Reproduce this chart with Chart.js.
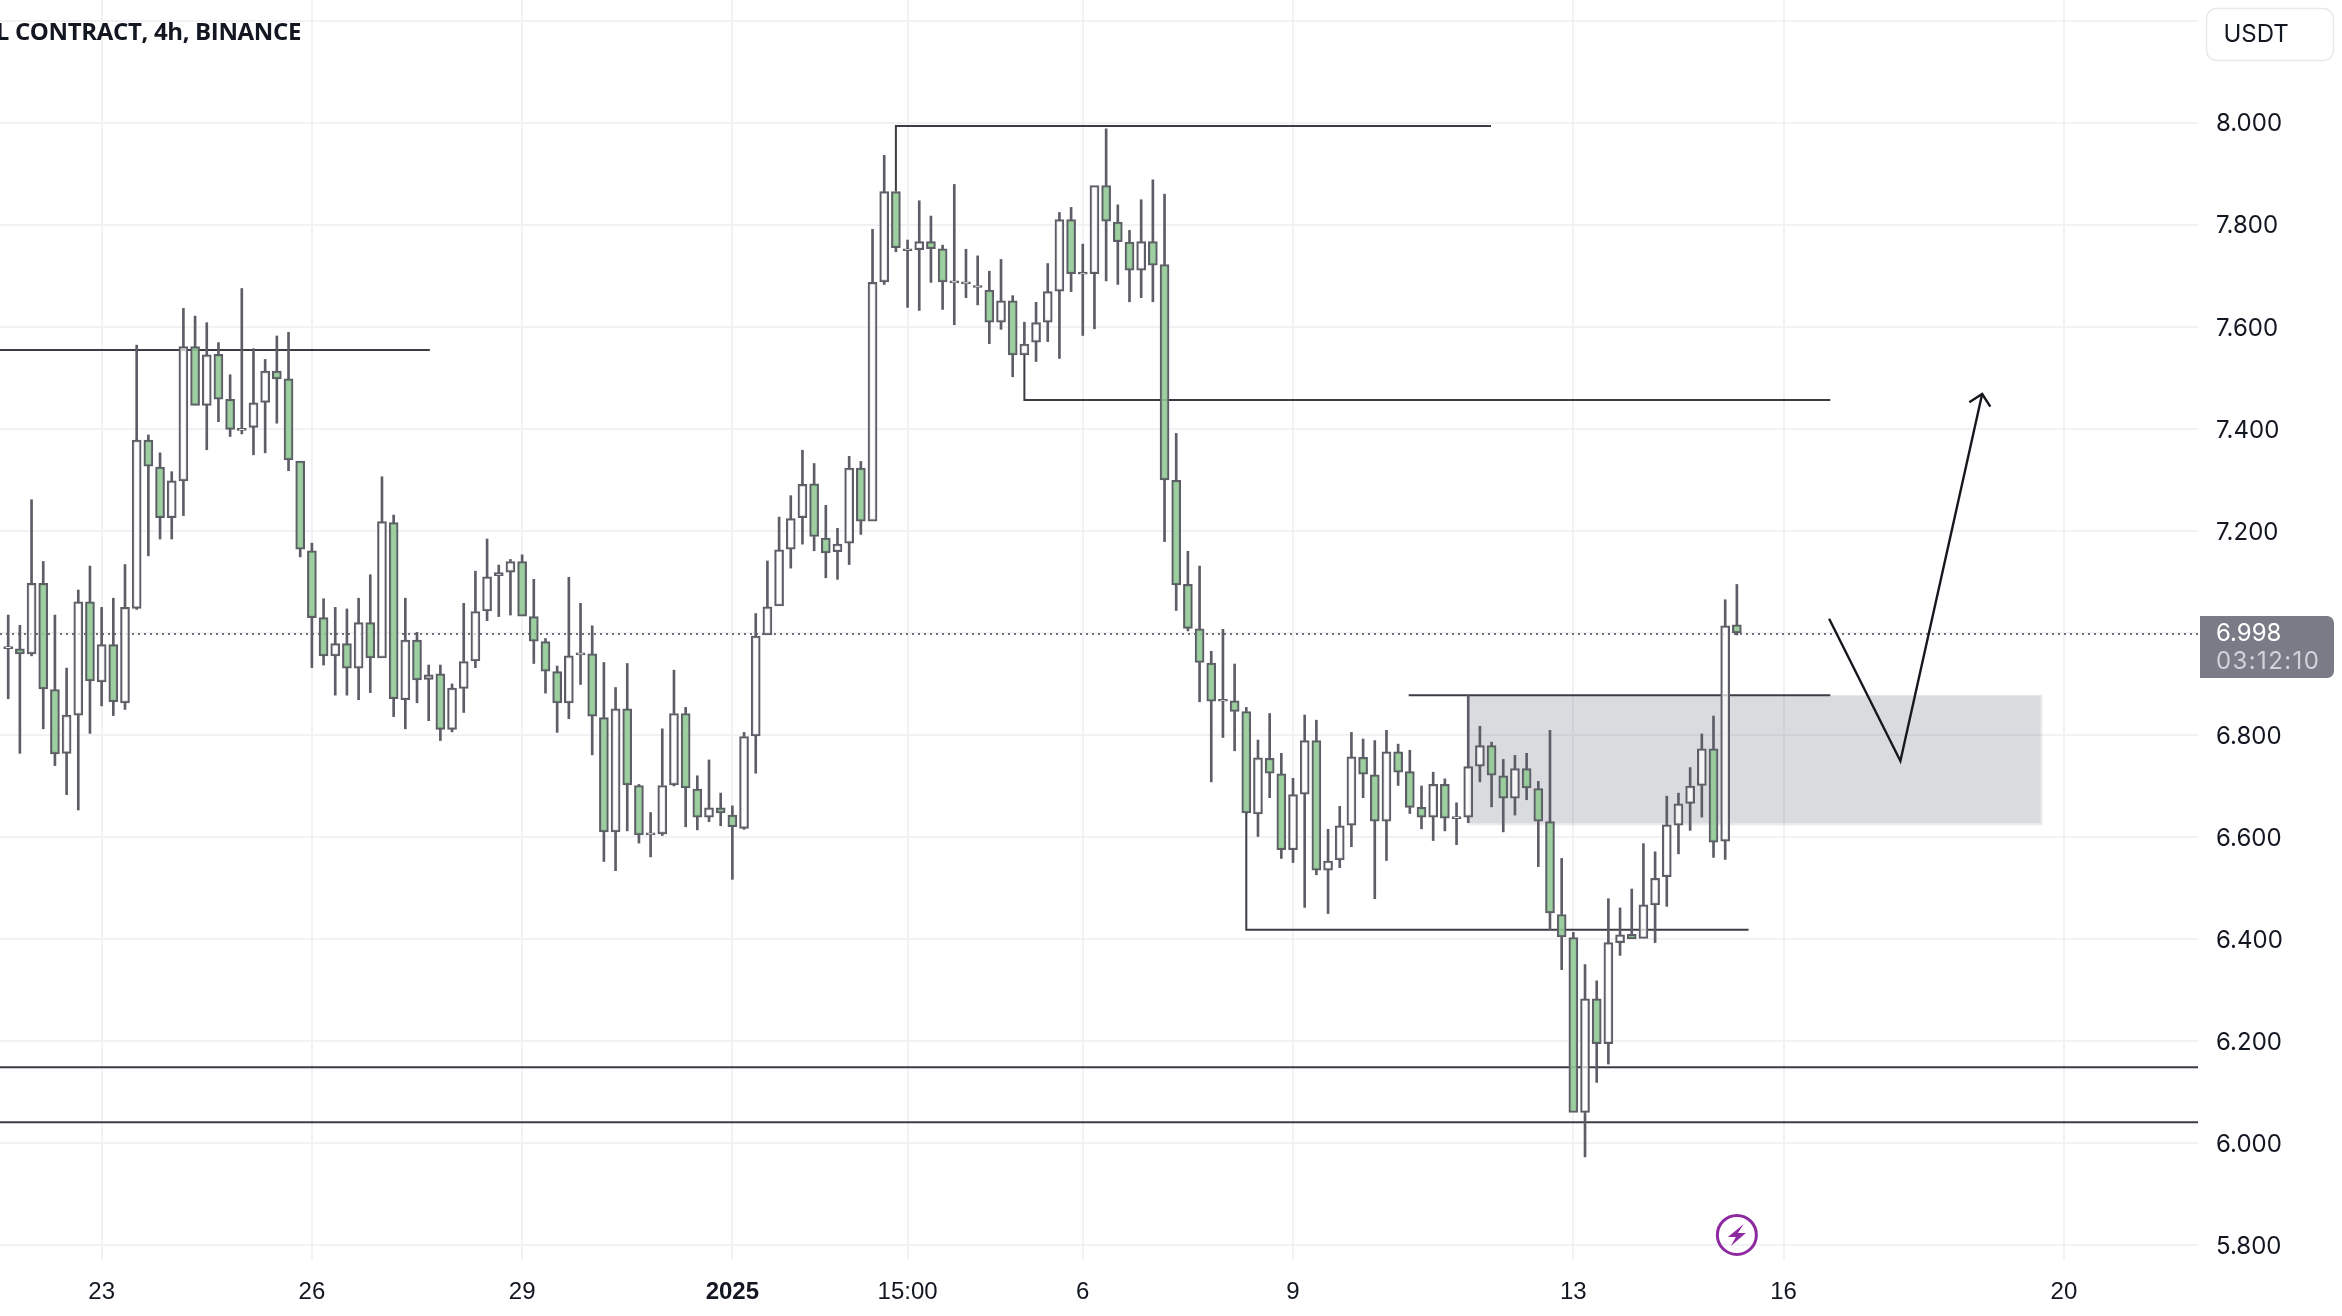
<!DOCTYPE html>
<html>
<head>
<meta charset="utf-8">
<style>html,body{margin:0;padding:0;background:#fff}canvas{display:block}</style>
<script src="https://cdn.jsdelivr.net/npm/chart.js@4"></script>
</head>
<body>
<canvas id="c" width="2342" height="1316"></canvas>
<script>
const opens = [
6.969,6.969,6.959,7.097,6.889,6.764,6.839,7.061,6.904,6.977,
6.863,7.048,7.378,7.325,7.226,7.298,7.561,7.446,7.546,7.458,
7.397,7.403,7.452,7.513,7.498,7.337,7.161,7.030,6.955,6.979,
6.931,7.020,6.951,7.216,6.869,6.986,6.909,6.920,6.811,6.891,
6.945,7.043,7.112,7.119,7.140,7.032,6.983,6.924,6.863,6.957,
6.959,6.834,6.610,6.851,6.701,6.604,6.606,6.702,6.842,6.694,
6.639,6.657,6.643,6.617,6.798,6.996,7.053,7.164,7.226,7.292,
7.186,7.159,7.176,7.323,7.219,7.688,7.865,7.749,7.751,7.767,
7.753,7.686,7.684,7.677,7.672,7.609,7.651,7.545,7.570,7.609,
7.670,7.810,7.703,7.704,7.877,7.805,7.766,7.711,7.767,7.722,
7.299,7.095,7.008,6.941,6.866,6.867,6.846,6.645,6.754,6.724,
6.575,6.684,6.789,6.535,6.555,6.623,6.756,6.722,6.631,6.767,
6.728,6.658,6.639,6.703,6.636,6.639,6.739,6.779,6.720,6.676,
6.734,6.695,6.630,6.448,6.403,6.060,6.283,6.195,6.393,6.409,
6.401,6.467,6.522,6.623,6.666,6.701,6.773,6.592,7.016];
const highs = [
7.035,7.015,7.261,7.140,7.035,6.931,7.084,7.131,7.050,7.068,
7.134,7.564,7.388,7.353,7.316,7.636,7.621,7.608,7.569,7.506,
7.675,7.557,7.536,7.582,7.589,7.337,7.176,7.067,7.050,7.047,
7.068,7.114,7.306,7.231,7.068,7.001,6.937,6.937,6.900,7.058,
7.121,7.184,7.133,7.144,7.153,7.105,6.989,6.935,7.109,7.058,
7.014,6.942,6.893,6.940,6.703,6.648,6.812,6.927,6.854,6.720,
6.751,6.686,6.661,6.805,7.038,7.141,7.227,7.269,7.358,7.332,
7.250,7.205,7.346,7.336,7.791,7.936,7.865,7.770,7.847,7.817,
7.760,7.879,7.752,7.739,7.709,7.732,7.661,7.609,7.648,7.724,
7.824,7.834,7.762,7.877,7.988,7.839,7.789,7.849,7.888,7.860,
7.391,7.160,7.131,6.964,7.007,6.939,6.854,6.790,6.842,6.764,
6.715,6.839,6.829,6.615,6.660,6.805,6.792,6.789,6.809,6.782,
6.770,6.700,6.727,6.714,6.667,6.877,6.817,6.786,6.752,6.760,
6.764,6.709,6.809,6.558,6.413,6.350,6.318,6.479,6.461,6.498,
6.587,6.571,6.680,6.686,6.736,6.802,6.837,7.065,7.095];
const lows = [
6.871,6.764,6.955,6.812,6.740,6.683,6.653,6.803,6.857,6.838,
6.850,7.046,7.151,7.184,7.184,7.230,7.446,7.359,7.414,7.385,
7.390,7.349,7.353,7.411,7.318,7.149,6.932,6.937,6.878,6.878,
6.869,6.883,6.951,6.836,6.812,6.863,6.828,6.789,6.806,6.844,
6.932,7.024,7.032,7.035,7.033,6.940,6.882,6.805,6.832,6.899,
6.761,6.552,6.534,6.612,6.588,6.561,6.603,6.700,6.620,6.614,
6.630,6.622,6.517,6.615,6.725,6.996,7.053,7.127,7.174,7.161,
7.108,7.105,7.134,7.193,7.219,7.683,7.747,7.638,7.632,7.687,
7.634,7.604,7.657,7.643,7.567,7.595,7.502,7.545,7.532,7.571,
7.538,7.669,7.583,7.596,7.690,7.683,7.649,7.657,7.649,7.179,
7.044,7.004,6.865,6.708,6.795,6.769,6.645,6.601,6.677,6.558,
6.550,6.462,6.526,6.450,6.540,6.581,6.677,6.479,6.554,6.701,
6.646,6.616,6.593,6.612,6.585,6.628,6.708,6.659,6.610,6.643,
6.673,6.542,6.418,6.340,6.060,5.973,6.119,6.155,6.368,6.400,
6.401,6.393,6.464,6.567,6.613,6.639,6.560,6.556,6.996];
const closes = [
6.973,6.959,7.097,6.890,6.763,6.839,7.061,6.906,6.977,6.865,
7.050,7.378,7.327,7.226,7.298,7.561,7.446,7.545,7.458,7.399,
7.401,7.451,7.513,7.498,7.339,7.164,7.030,6.955,6.979,6.931,
7.020,6.951,7.218,6.871,6.986,6.908,6.918,6.811,6.892,6.944,
7.042,7.110,7.118,7.140,7.033,6.984,6.925,6.863,6.955,6.961,
6.837,6.610,6.851,6.702,6.604,6.608,6.701,6.842,6.696,6.639,
6.657,6.647,6.620,6.797,6.994,7.051,7.163,7.224,7.291,7.189,
7.157,7.174,7.323,7.219,7.687,7.865,7.755,7.753,7.767,7.753,
7.688,7.690,7.688,7.681,7.609,7.651,7.545,7.566,7.608,7.669,
7.810,7.704,7.707,7.877,7.807,7.767,7.711,7.767,7.721,7.300,
7.094,7.009,6.942,6.866,6.870,6.846,6.647,6.755,6.725,6.575,
6.683,6.789,6.535,6.553,6.622,6.757,6.723,6.631,6.767,6.727,
6.658,6.639,6.703,6.637,6.640,6.738,6.779,6.721,6.676,6.734,
6.696,6.631,6.451,6.404,6.060,6.283,6.195,6.393,6.408,6.400,
6.467,6.519,6.624,6.665,6.700,6.773,6.590,7.014,7.000];

const xTickBars = [8,26,44,62,77,92,110,134,152,176];
const xTickLabels = ['23','26','29','2025','15:00','6','9','13','16','20'];
const yTicks = [5.8,6.0,6.2,6.4,6.6,6.8,7.0,7.2,7.4,7.6,7.8,8.0,8.2];
const lastPrice = 6.998;
const countdown = '03:12:10';
const barMin = -0.702, barMax = 187.48, priceMin = 5.7709, priceMax = 8.2405;

const levelLines = [
  [[barMin,7.5547],[36.1,7.5547]],
  [[76,7.865],[76,7.9935],[126.95,7.9935]],
  [[87,7.545],[87,7.4565],[156,7.4565]],
  [[106,6.647],[106,6.4183],[149,6.4183]],
  [[119.9,6.8776],[156,6.8776]],
  [[barMin,6.1488],[barMax,6.1488]],
  [[barMin,6.0409],[barMax,6.0409]]
];
const arrowPath = [[155.9,7.0276],[162,6.7489],[169,7.4683]];
const arrowHead = [[167.9,7.452],[169,7.4683],[169.7,7.4434]];
const zoneBars = [125,174];
const zonePrices = [6.8776,6.6268];
const boltBar = 148;

const INK='#5c5d66', GREEN='rgba(143,200,147,.88)', WHITE='rgba(255,255,255,.72)';
const pts = a => a.map(p=>({x:p[0],y:p[1]}));
const isUp = i => closes[i]>=opens[i];
const wickTop=[],wickBot=[],upBody=[],downBody=[];
opens.forEach((o,i)=>{
  const t=Math.max(o,closes[i]), b=Math.min(o,closes[i]);
  if(highs[i]>t) wickTop.push({x:i,y:[t,highs[i]]});
  if(lows[i]<b) wickBot.push({x:i,y:[lows[i],b]});
  (isUp(i)?upBody:downBody).push({x:i,y:[b,t]});
});
const FONT='Inter, "Liberation Sans", sans-serif';

const decor = {
  id:'decor',
  beforeDatasetsDraw(ch){
    const {ctx,scales:{x,y}}=ch;
    const l=x.getPixelForValue(zoneBars[0]),r=x.getPixelForValue(zoneBars[1]);
    const t=y.getPixelForValue(zonePrices[0]),b=y.getPixelForValue(zonePrices[1]);
    ctx.save();
    ctx.fillStyle='rgba(120,123,138,.27)';
    ctx.fillRect(l,t,r-l,b-t);
    ctx.fillStyle='rgba(120,123,138,.14)';
    ctx.fillRect(r,t-1,2,b-t+3);
    ctx.fillRect(l,b,r-l,2);
    ctx.restore();
  },
  afterDraw(ch){
    const {ctx,scales:{x,y}}=ch;
    ctx.save();
    // symbol title, cut by the left edge as in the source
    ctx.font='700 24px "Open Sans", sans-serif';
    ctx.letterSpacing='-0.35px';
    ctx.fillStyle='#131722';ctx.textAlign='right';ctx.textBaseline='middle';
    ctx.fillText('L CONTRACT, 4h, BINANCE',301,33);
    ctx.letterSpacing='0px';
    // currency button
    ctx.beginPath();ctx.roundRect(2206.5,8.5,127,52,10);
    ctx.fillStyle='#fff';ctx.fill();ctx.strokeStyle='#e8e9ee';ctx.lineWidth=1.5;ctx.stroke();
    ctx.font='400 24px '+FONT;ctx.fillStyle='#131722';ctx.textAlign='left';
    ctx.fillText('USDT',2223.5,35);
    // last price tag
    const py=y.getPixelForValue(lastPrice);
    ctx.beginPath();ctx.roundRect(2200,py-18,134,62,[0,7,7,0]);
    ctx.fillStyle='#797b86';ctx.fill();
    ctx.font='400 24px '+FONT;ctx.fillStyle='#fff';ctx.fillText(lastPrice.toFixed(3),2216,py-0.5);
    ctx.letterSpacing='1.4px';
    ctx.fillStyle='#d2d3d9';ctx.fillText(countdown,2216,py+28);
    ctx.letterSpacing='0px';
    // lightning badge
    const bx=x.getPixelForValue(boltBar), by=y.getPixelForValue(5.82);
    ctx.strokeStyle='#8e2aa0';ctx.lineWidth=3;ctx.beginPath();ctx.arc(bx,by,19.5,0,Math.PI*2);ctx.stroke();
    ctx.fillStyle='#8e2aa0';ctx.beginPath();
    ctx.moveTo(bx+7,by-11);ctx.lineTo(bx-9,by+2);ctx.lineTo(bx-1,by+2);ctx.lineTo(bx-6,by+11);
    ctx.lineTo(bx+9,by-2);ctx.lineTo(bx+1,by-2);ctx.closePath();ctx.fill();
    ctx.restore();
  }
};

const lineSet = (data,color,width,order,extra) => Object.assign({
  type:'line',data:pts(data),borderColor:color,borderWidth:width,pointRadius:0,
  fill:false,tension:0,order,borderJoinStyle:'miter',borderCapStyle:'butt'
},extra||{});
const barSet = (data,fill,border,thick,order) => ({
  type:'bar',data,backgroundColor:fill,borderColor:border,borderWidth:border?2:0,
  borderSkipped:false,barThickness:thick,grouped:false,order
});
const noPad = s => {s.paddingTop=0;s.paddingBottom=0;s.paddingLeft=0;s.paddingRight=0;};

new Chart(document.getElementById('c'),{
  data:{datasets:[
    lineSet(arrowPath,'#17181d',2.4,1),
    lineSet(arrowHead,'#17181d',2.4,1),
    barSet(upBody,WHITE,INK,9,5),
    barSet(downBody,GREEN,INK,9,5),
    barSet(wickTop,INK,null,2,6),
    barSet(wickBot,INK,null,2,6),
    ...levelLines.map(l=>lineSet(l,'#3c3d44',2,7)),
    lineSet([[barMin,lastPrice],[barMax,lastPrice]],'#6f7079',2,8,{borderDash:[2,4]})
  ]},
  options:{
    responsive:false,devicePixelRatio:1,animation:false,
    layout:{padding:0},
    plugins:{legend:{display:false},tooltip:{enabled:false},title:{display:false}},
    scales:{
      x:{type:'linear',position:'bottom',min:barMin,max:barMax,offset:false,
        afterBuildTicks(s){s.ticks=xTickBars.map(v=>({value:v}));},
        afterFit(s){s.height=56;noPad(s);},
        grid:{color:'#f1f2f4',lineWidth:2,drawTicks:false,offset:false},
        border:{display:false},
        ticks:{autoSkip:false,maxRotation:0,padding:18,color:'#131722',
          callback(v){const k=xTickBars.indexOf(v);return k<0?'':xTickLabels[k];},
          font(c){return {family:'"Liberation Sans", sans-serif',size:24,
            weight:xTickLabels[c.index]==='2025'?'700':'400'};}}
      },
      y:{type:'linear',position:'right',min:priceMin,max:priceMax,
        afterBuildTicks(s){s.ticks=yTicks.map(v=>({value:v}));},
        afterFit(s){s.width=144;noPad(s);},
        grid:{color:'#f1f2f4',lineWidth:2,drawTicks:false},
        border:{display:false},
        ticks:{autoSkip:false,padding:18,labelOffset:1.5,color:'#131722',
          callback(v){return (v>8.1||Math.abs(v-7)<.01)?'':v.toFixed(3);},
          font:{family:FONT,size:24}}
      }
    }
  },
  plugins:[decor]
});
</script>
</body>
</html>
